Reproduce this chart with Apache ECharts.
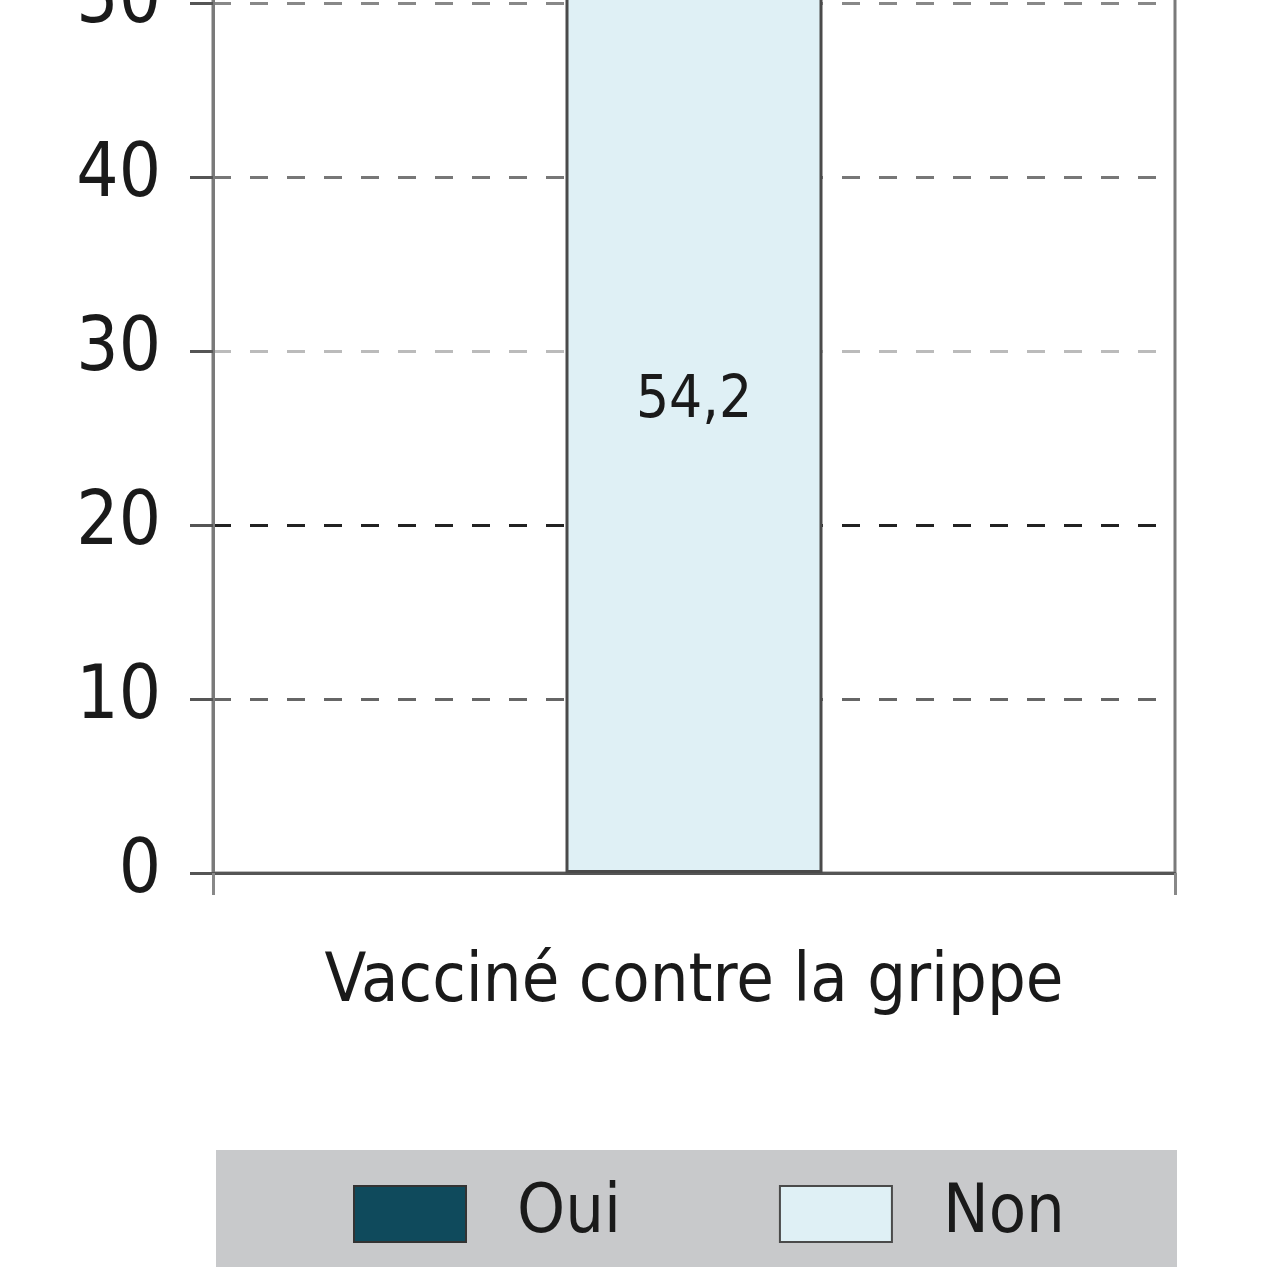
<!DOCTYPE html>
<html>
<head>
<meta charset="utf-8">
<script src="https://cdn.jsdelivr.net/npm/echarts@6/dist/echarts.min.js"></script>
<style>
  html, body { margin: 0; padding: 0; background: #fff; overflow: hidden; width: 1280px; height: 1280px; }
  #main { position: absolute; left: 0; top: -867px; width: 1280px; height: 2147px; }
</style>
</head>
<body>
<div id="main"></div>
<script>
var categories = ['Vacciné contre la grippe'];
var ouiValues = [45.8];
var nonValues = [54.2];
var seriesNames = ['Oui', 'Non'];

// the visible window starts 867px below the chart's top
var shift = 867;
var font = '"Liberation Sans Narrow", "DejaVu Sans Condensed", "Liberation Sans", sans-serif';

function fmt(v) {
  return v.toFixed(1).replace('.', ',');
}

var chart = echarts.init(document.getElementById('main'));
var option = {
  backgroundColor: '#ffffff',
  animation: false,
  grid: {
    left: 213,
    right: 105,
    top: 0,
    bottom: 407,
    outerBoundsMode: 'none',
    containLabel: false,
    show: true,
    borderColor: '#7a7a7a',
    borderWidth: 3,
    backgroundColor: 'transparent'
  },
  graphic: [{
    type: 'rect',
    left: 216,
    top: shift + 1150,
    z: -1,
    shape: { width: 961, height: 117 },
    style: { fill: '#c8c9cb' }
  }],
  legend: {
    data: seriesNames,
    icon: 'rect',
    left: 348,
    top: shift + 1175,
    itemWidth: 112,
    itemHeight: 56,
    itemGap: 158,
    textStyle: {
      fontFamily: font,
      fontSize: 68,
      color: '#1a1a1a',
      padding: [0, 0, 0, 46]
    }
  },
  xAxis: {
    type: 'category',
    data: categories,
    axisLine: { lineStyle: { color: '#555', width: 3 } },
    axisTick: { show: true, length: 22, lineStyle: { color: '#888', width: 3 } },
    axisLabel: {
      margin: 76,
      fontFamily: font,
      fontSize: 68,
      color: '#1a1a1a'
    }
  },
  yAxis: {
    type: 'value',
    min: 0,
    max: 100,
    interval: 10,
    axisLine: { show: true, lineStyle: { color: '#7a7a7a', width: 3 } },
    axisTick: { show: true, length: 23, lineStyle: { color: '#555', width: 3 } },
    axisLabel: {
      margin: 52,
      fontFamily: font,
      fontSize: 74,
      color: '#1a1a1a'
    },
    splitLine: {
      show: true,
      lineStyle: {
        type: [18, 19],
        width: 3,
        color: ['#555', '#666', '#222', '#bbb', '#777', '#888', '#888', '#888', '#888', '#888', '#888']
      }
    }
  },
  series: [{
    name: 'Non',
    type: 'bar',
    stack: 'total',
    barWidth: 257,
    data: nonValues,
    itemStyle: { color: '#dff0f5', borderColor: '#4a4a4a', borderWidth: 3 },
    label: {
      show: true,
      position: 'inside',
      fontFamily: font,
      fontSize: 58,
      color: '#1a1a1a',
      formatter: function (p) { return fmt(p.value); }
    }
  }, {
    name: 'Oui',
    type: 'bar',
    stack: 'total',
    barWidth: 257,
    data: ouiValues,
    itemStyle: { color: '#0f4a5c', borderColor: '#333', borderWidth: 2 },
    label: {
      show: true,
      position: 'inside',
      fontFamily: font,
      fontSize: 58,
      color: '#ffffff',
      formatter: function (p) { return fmt(p.value); }
    }
  }]
};
chart.setOption(option);
</script>
</body>
</html>
